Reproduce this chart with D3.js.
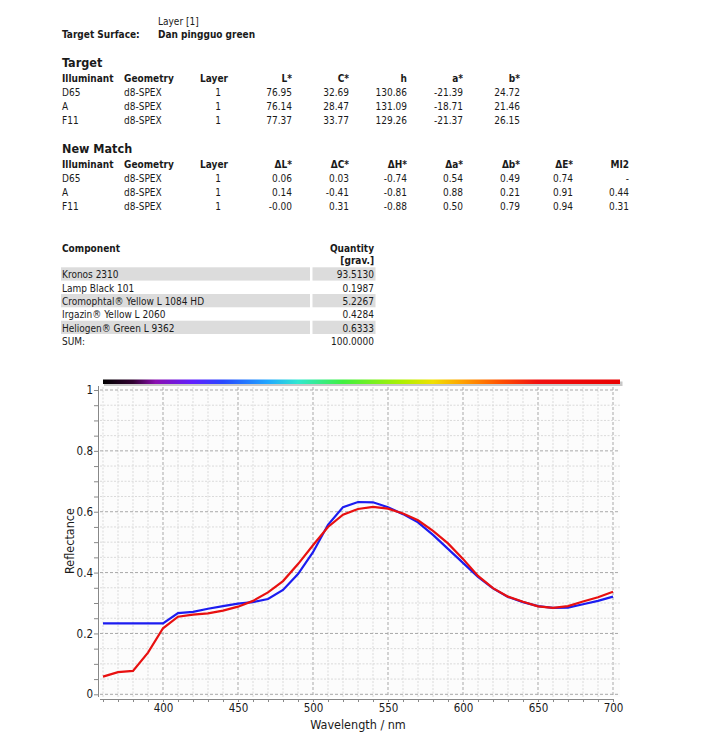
<!DOCTYPE html>
<html lang="en">
<head>
<meta charset="UTF-8">
<title>Dan pingguo green</title>
<script src="https://d3js.org/d3.v7.min.js"></script>
<style>
    body { margin: 0; padding: 0; background: #fff; }
    svg text { font-family: 'DejaVu Sans Condensed', 'Liberation Sans', sans-serif; fill: #1a1a1a; }
    .b { font-weight: bold; }
</style>
</head>
<body>
<div id="main"></div>
<script>
    var illuminants = ['D65', 'A', 'F11'];
    var geometry = 'd8-SPEX';
    var layers = [1, 1, 1];

    var targetCols = ['L*', 'C*', 'h', 'a*', 'b*'];
    var targetVals = [
        ['76.95', '32.69', '130.86', '-21.39', '24.72'],
        ['76.14', '28.47', '131.09', '-18.71', '21.46'],
        ['77.37', '33.77', '129.26', '-21.37', '26.15']
    ];

    var matchCols = ['\u0394L*', '\u0394C*', '\u0394H*', '\u0394a*', '\u0394b*', '\u0394E*', 'MI2'];
    var matchVals = [
        ['0.06', '0.03', '-0.74', '0.54', '0.49', '0.74', '-'],
        ['0.14', '-0.41', '-0.81', '0.88', '0.21', '0.91', '0.44'],
        ['-0.00', '0.31', '-0.88', '0.50', '0.79', '0.94', '0.31']
    ];

    var components = ['Kronos 2310', 'Lamp Black 101', 'Cromophtal\u00ae Yellow L 1084 HD',
        'Irgazin\u00ae Yellow L 2060', 'Heliogen\u00ae Green L 9362', 'SUM:'];
    var quantities = ['93.5130', '0.1987', '5.2267', '0.4284', '0.6333', '100.0000'];

    var wavelengths = d3.range(360, 701, 10);
    var targetCurve = [0.233, 0.233, 0.233, 0.233, 0.233, 0.267, 0.271, 0.281, 0.290, 0.298,
        0.303, 0.313, 0.343, 0.395, 0.467, 0.557, 0.615, 0.632, 0.631, 0.615,
        0.592, 0.565, 0.524, 0.478, 0.432, 0.386, 0.348, 0.320, 0.303, 0.290,
        0.284, 0.285, 0.296, 0.307, 0.321];
    var matchCurve = [0.058, 0.073, 0.077, 0.137, 0.217, 0.255, 0.262, 0.266, 0.275, 0.288,
        0.307, 0.335, 0.372, 0.428, 0.490, 0.550, 0.590, 0.609, 0.616, 0.610,
        0.594, 0.572, 0.537, 0.496, 0.445, 0.389, 0.349, 0.321, 0.304, 0.289,
        0.284, 0.290, 0.305, 0.319, 0.337];

    var spectrumNm = [360, 380, 395, 420, 440, 470, 490, 520, 560, 580, 600, 625, 650, 705];
    var spectrumColors = ['#000000', '#300030', '#8a10b0', '#6020ff', '#2848ff', '#20a8ff', '#30e8d0',
        '#40f040', '#b0f000', '#f0e000', '#ffa000', '#ff5000', '#f01010', '#e80000'];

    var width = 721, height = 738;

    var svg = d3.select('#main').append('svg')
        .attr('width', width)
        .attr('height', height);

    // ---- header ----
    svg.append('text').attr('x', 158).attr('y', 25).style('font-size', '10px').text('Layer [1]');
    svg.append('text').attr('class', 'b').attr('x', 62).attr('y', 38).style('font-size', '10px').text('Target Surface:');
    svg.append('text').attr('class', 'b').attr('x', 158).attr('y', 38).style('font-size', '10px').text('Dan pingguo green');

    var colRight = [292, 349, 407, 463, 520, 573, 629];

    function drawTable(title, top, cols, vals) {
        svg.append('text').attr('class', 'b').attr('x', 62).attr('y', top).style('font-size', '12.5px').text(title);
        var hy = top + 14.5;
        var g = svg.append('g').style('font-size', '10px');
        g.append('text').attr('class', 'b').attr('x', 62).attr('y', hy).text('Illuminant');
        g.append('text').attr('class', 'b').attr('x', 124).attr('y', hy).text('Geometry');
        g.append('text').attr('class', 'b').attr('x', 214).attr('y', hy).attr('text-anchor', 'middle').text('Layer');
        cols.forEach(function(c, i) {
            g.append('text').attr('class', 'b').attr('x', colRight[i]).attr('y', hy)
                .attr('text-anchor', 'end').text(c);
        });
        vals.forEach(function(row, r) {
            var y = hy + 14.2 * (r + 1);
            g.append('text').attr('x', 62).attr('y', y).text(illuminants[r]);
            g.append('text').attr('x', 124).attr('y', y).text(geometry);
            g.append('text').attr('x', 218).attr('y', y).attr('text-anchor', 'middle').text(layers[r]);
            row.forEach(function(v, i) {
                g.append('text').attr('x', colRight[i]).attr('y', y).attr('text-anchor', 'end').text(v);
            });
        });
    }

    drawTable('Target', 67, targetCols, targetVals);
    drawTable('New Match', 153, matchCols, matchVals);

    // ---- component table ----
    var ct = svg.append('g').style('font-size', '10px');
    ct.append('text').attr('class', 'b').attr('x', 62).attr('y', 252).text('Component');
    ct.append('text').attr('class', 'b').attr('x', 374).attr('y', 252).attr('text-anchor', 'end').text('Quantity');
    ct.append('text').attr('class', 'b').attr('x', 374).attr('y', 264).attr('text-anchor', 'end').text('[grav.]');
    components.forEach(function(c, i) {
        var top = 267.3 + i * 13.35;
        if (i % 2 === 0 && i < 5) {
            ct.append('rect').attr('x', 61).attr('y', top).attr('width', 249).attr('height', 13.3).attr('fill', '#dcdcdc');
            ct.append('rect').attr('x', 312.5).attr('y', top).attr('width', 63).attr('height', 13.3).attr('fill', '#dcdcdc');
        }
        ct.append('text').attr('x', 62).attr('y', top + 11).text(c);
        ct.append('text').attr('x', 374).attr('y', top + 11).attr('text-anchor', 'end').text(quantities[i]);
    });

    // ---- spectral chart ----
    var x = d3.scaleLinear().domain([400, 700]).range([163, 613]);
    var y = d3.scaleLinear().domain([0, 1]).range([694.3, 390]);
    var plotL = 100, plotR = 620, plotT = 386, plotB = 697;

    svg.append('rect').attr('x', plotL).attr('y', plotT).attr('width', plotR - plotL).attr('height', plotB - plotT)
        .attr('fill', '#fcfcfc');

    // spectrum strip
    var grad = svg.append('defs').append('linearGradient').attr('id', 'spec')
        .attr('gradientUnits', 'userSpaceOnUse')
        .attr('x1', x(360)).attr('x2', x(705)).attr('y1', 0).attr('y2', 0);
    spectrumNm.forEach(function(nm, i) {
        grad.append('stop').attr('offset', (nm - 360) / (705 - 360)).attr('stop-color', spectrumColors[i]);
    });
    svg.append('rect').attr('x', x(360) + 1).attr('y', 381.5).attr('width', plotR - x(360) + 1.5).attr('height', 4.5).attr('fill', '#c8c8c8');
    svg.append('rect').attr('x', x(360)).attr('y', 379.5).attr('width', plotR - x(360)).attr('height', 4.5).attr('fill', 'url(#spec)');

    // grid
    var grid = svg.append('g');
    d3.range(360, 701, 10).forEach(function(w) {
        var major = w % 50 === 0;
        grid.append('line').attr('x1', x(w)).attr('x2', x(w)).attr('y1', plotT + 1).attr('y2', plotB)
            .attr('stroke', major ? '#a8a8a8' : '#dadada').attr('stroke-width', 1)
            .attr('stroke-dasharray', major ? '3,2' : '2,1.5');
    });
    d3.range(0, 21).forEach(function(k) {
        var v = k * 0.05;
        var major = k % 4 === 0;
        grid.append('line').attr('x1', plotL).attr('x2', plotR).attr('y1', y(v)).attr('y2', y(v))
            .attr('stroke', major ? '#a8a8a8' : '#dadada').attr('stroke-width', 1)
            .attr('stroke-dasharray', major ? '3,2' : '2,1.5');
    });

    // axes
    var xAxis = d3.axisBottom(x).tickValues(d3.range(360, 701, 10))
        .tickFormat(function(d) { return d % 50 === 0 ? d : ''; })
        .tickSize(3).tickSizeOuter(0);
    var gx = svg.append('g').attr('transform', 'translate(0,699)').call(xAxis);
    gx.select('.domain').attr('d', 'M' + plotL + ',0.5H' + x(700)).attr('stroke', '#888');
    gx.selectAll('.tick line').attr('stroke', '#888');
    gx.selectAll('.tick text').attr('y', 5).style('font-size', '11.5px').attr('fill', '#1a1a1a');

    var yAxis = d3.axisLeft(y).tickValues(d3.range(0, 21).map(function(k) { return k * 0.05; }))
        .tickFormat(function(d) { var r = Math.round(d * 100); return r % 20 === 0 ? d3.format('~g')(r / 100) : ''; })
        .tickSize(4).tickSizeOuter(0);
    var gy = svg.append('g').attr('transform', 'translate(98,0)').call(yAxis);
    gy.select('.domain').attr('d', 'M0.5,' + plotT + 'V' + plotB).attr('stroke', '#888');
    gy.selectAll('.tick line').attr('stroke', '#888');
    gy.selectAll('.tick text').attr('x', -5).style('font-size', '11.5px').attr('fill', '#1a1a1a');

    svg.append('text').attr('transform', 'translate(74,541) rotate(-90)').attr('text-anchor', 'middle')
        .style('font-size', '12.5px').text('Reflectance');
    svg.append('text').attr('x', 358).attr('y', 729).attr('text-anchor', 'middle')
        .style('font-size', '12.5px').text('Wavelength / nm');

    // curves
    var line = d3.line()
        .x(function(d, i) { return x(wavelengths[i]); })
        .y(function(d) { return y(d); });

    svg.append('path').datum(targetCurve).attr('d', line)
        .attr('fill', 'none').attr('stroke', '#1c1cf0').attr('stroke-width', 2.2);
    svg.append('path').datum(matchCurve).attr('d', line)
        .attr('fill', 'none').attr('stroke', '#e81010').attr('stroke-width', 2.2);
</script>
</body>
</html>
